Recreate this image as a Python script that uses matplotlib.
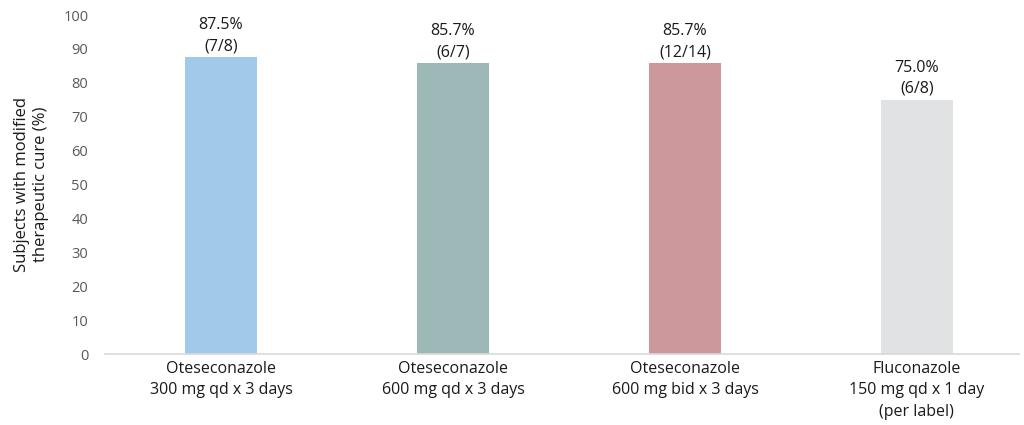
import matplotlib.pyplot as plt

categories = ["Oteseconazole\n300 mg qd x 3 days",
              "Oteseconazole\n600 mg qd x 3 days",
              "Oteseconazole\n600 mg bid x 3 days",
              "Fluconazole\n150 mg qd x 1 day\n(per label)"]
values = [87.5, 85.7, 85.7, 75.0]
counts = ["(7/8)", "(6/7)", "(12/14)", "(6/8)"]
colors = ["#A3C9EA", "#9CB8B7", "#CC989B", "#E1E2E4"]

plt.rcParams['font.family'] = ['Open Sans', 'DejaVu Sans']

fig = plt.figure(figsize=(10.24, 4.25), dpi=100)
ax = fig.add_axes([105 / 1024, 71 / 425, 914 / 1024, 339 / 425])

x = range(len(values))
ax.bar(x, values, width=0.31, color=colors, zorder=2)

for i, (v, c) in enumerate(zip(values, counts)):
    ax.annotate(f"{v:.1f}%\n{c}", (i, v), xytext=(0, 2), textcoords="offset points",
                ha="center", va="bottom", fontsize=11.5, color="#1a1a1a", linespacing=1.45)

ax.set_xlim(-0.5, 3.44)
ax.set_ylim(0, 100)
ax.set_yticks(range(0, 101, 10))
ax.set_xticks(list(x))
ax.set_xticklabels(categories, fontsize=11.5, color="#1a1a1a", linespacing=1.45)
ax.tick_params(axis="y", labelsize=10.5, labelcolor="#595959", length=0, pad=12)
ax.tick_params(axis="x", length=0, pad=5)

for s in ["top", "right", "left"]:
    ax.spines[s].set_visible(False)
ax.spines["bottom"].set_color("#D9D9D9")
ax.spines["bottom"].set_linewidth(1.2)

ax.set_ylabel("Subjects with modified\ntherapeutic cure (%)", fontsize=12,
              color="#1a1a1a", linespacing=1.25)
ax.yaxis.set_label_coords(-0.061, 0.5)

fig.savefig("out.png", dpi=100)
